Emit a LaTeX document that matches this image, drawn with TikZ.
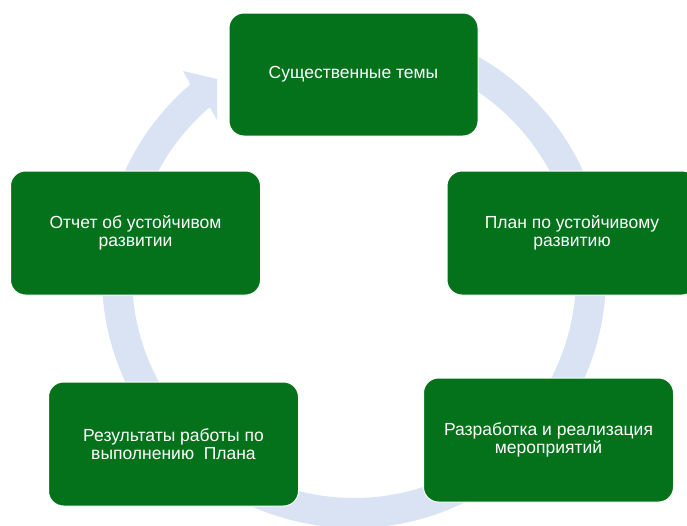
\documentclass[tikz,border=0pt]{standalone}
\usepackage{fontspec}
\setmainfont{Liberation Sans}
\usetikzlibrary{calc}
\definecolor{stagegreen}{RGB}{3,114,27}
\definecolor{ringblue}{RGB}{218,227,243}
\tikzset{
    stage/.style={
    draw=white,
    line width=1pt,
    fill=stagegreen,
    text=white,
    rounded corners=15pt,
    minimum width=250pt,
    minimum height=124pt,
    align=center,
    font=\fontsize{17.5}{18.5}\selectfont
    }
}

\begin{document}
\begin{tikzpicture}[x=1pt,y=-1pt]
\useasboundingbox (0,0) rectangle (687,525);

\coordinate (o) at (354,276);
\coordinate (barbout) at (183,71);
\coordinate (tipa) at (217,79);
\coordinate (tipb) at (217,120);
\fill[ringblue] ($(o)+(-80:252)$) arc[start angle=-80,end angle=229.5,radius=252]
  -- (barbout) -- (tipa) -- (tipb)
  -- ($(o)+(229.5:222)$) arc[start angle=229.5,end angle=-80,radius=222] -- cycle;

\node [stage,minimum width=249pt,minimum height=123pt](themes) at (353.5,74.5) {Существенные темы};
\node [stage](plan) at (572,233) {План по устойчивому\\развитию};
\node [stage](act) at (548.5,440) {Разработка и реализация\\мероприятий};
\node [stage](res) at (173.5,444) {Результаты работы по\\выполнению\ \ Плана};
\node [stage](rep) at (135.5,233) {Отчет об устойчивом\\развитии};

\end{tikzpicture}
\end{document}
